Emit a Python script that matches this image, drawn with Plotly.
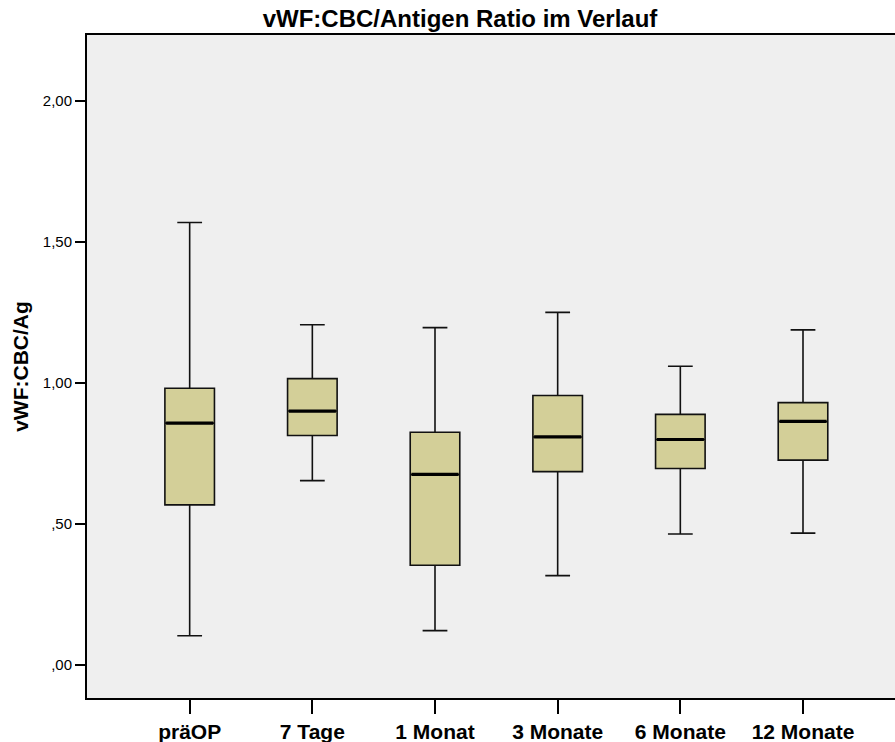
import plotly.graph_objects as go

# Zeitpunkte und Kennwerte der Boxplots (vWF:CBC/Ag Ratio)
categories = ["präOP", "7 Tage", "1 Monat", "3 Monate", "6 Monate", "12 Monate"]
lower_whisker = [0.104, 0.654, 0.122, 0.317, 0.465, 0.468]
q1 = [0.568, 0.814, 0.354, 0.686, 0.697, 0.727]
median = [0.858, 0.901, 0.676, 0.809, 0.800, 0.864]
q3 = [0.982, 1.016, 0.826, 0.956, 0.889, 0.931]
upper_whisker = [1.570, 1.207, 1.197, 1.251, 1.060, 1.189]

y_tickvals = [0.0, 0.5, 1.0, 1.5, 2.0]
y_ticktext = [",00", ",50", "1,00", "1,50", "2,00"]

FONT = "Liberation Sans, Arial, sans-serif"
BOX_W = 0.404
FILL = "#D3CF98"
BG = "#EFEFEF"

positions = list(range(len(categories)))

fig = go.Figure()
fig.add_trace(go.Box(
    x=positions,
    q1=q1, median=median, q3=q3,
    lowerfence=lower_whisker, upperfence=upper_whisker,
    width=BOX_W,
    whiskerwidth=0.5,
    fillcolor=FILL,
    line=dict(color="#111111", width=1.6),
    boxpoints=False,
    hoverinfo="skip",
    showlegend=False,
))

# kräftigere Medianlinien
for xi, m in zip(positions, median):
    fig.add_trace(go.Scatter(
        x=[xi - BOX_W / 2 + 0.01, xi + BOX_W / 2 - 0.01], y=[m, m],
        mode="lines", line=dict(color="black", width=3.2),
        hoverinfo="skip", showlegend=False,
    ))

fig.update_layout(
    width=895, height=742,
    margin=dict(l=87, r=0, t=35, b=44),
    paper_bgcolor="white",
    plot_bgcolor=BG,
    font=dict(family=FONT, color="black"),
    title=dict(
        text="<b>vWF:CBC/Antigen Ratio im Verlauf</b>",
        font=dict(family=FONT, size=24, color="black"),
        x=460 / 895, xref="container", xanchor="center",
        y=(742 - 19) / 742, yref="container", yanchor="middle",
    ),
)

fig.update_xaxes(
    range=[-0.837, 5.75],
    tickmode="array", tickvals=positions,
    ticktext=[f"<b>{c}</b>" for c in categories],
    tickfont=dict(family=FONT, size=21, color="black"),
    showgrid=False, zeroline=False,
    showline=True, linecolor="black", linewidth=2, mirror=True,
    ticks="outside", ticklen=14, tickwidth=2, tickcolor="black",
)
fig.update_yaxes(
    range=[-0.117, 2.235],
    tickmode="array", tickvals=y_tickvals, ticktext=y_ticktext,
    tickfont=dict(family=FONT, size=15, color="black"),
    showgrid=False, zeroline=False,
    showline=True, linecolor="black", linewidth=2,
    ticks="outside", ticklen=10, tickwidth=2, tickcolor="black",
    title=dict(text="<b>vWF:CBC/Ag</b>", font=dict(family=FONT, size=21, color="black"), standoff=8),
)

fig.write_html("out.html")
